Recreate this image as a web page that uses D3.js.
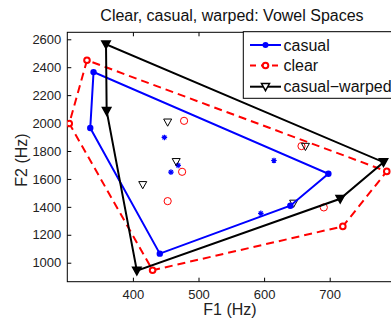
<!DOCTYPE html>
<html>
<head>
<meta charset="utf-8">
<script src="https://cdn.jsdelivr.net/npm/d3@7"></script>
<style>
  html, body { margin: 0; padding: 0; background: #fff; overflow: hidden; }
  svg { display: block; font-family: "Liberation Sans", Arial, Helvetica, sans-serif; }
</style>
</head>
<body>
<svg id="chart" width="391" height="323"></svg>
<script>
// ---- data (F1, F2 in Hz) ----
const seriesNames = ["casual", "clear", "casual\u2212warped"];
// convex hull vertices
const casualHullF1 = [340, 335, 441, 640, 698];
const casualHullF2 = [2365, 1965, 1065, 1408, 1637];
const clearHullF1  = [330, 303, 430, 720, 787];
const clearHullF2  = [2450, 1997, 946, 1260, 1654];
const warpedHullF1 = [359, 360, 406, 716, 782];
const warpedHullF2 = [2564, 2087, 943, 1458, 1720];
// interior vowels
const casualInnerF1 = [448, 458, 469, 615, 595];
const casualInnerF2 = [1897, 1649, 1697, 1732, 1353];
const clearInnerF1  = [478, 475, 453, 657, 691];
const clearInnerF2  = [2016, 1651, 1441, 1835, 1396];
const warpedInnerF1 = [453, 466, 415, 663, 645];
const warpedInnerF2 = [2006, 1723, 1558, 1832, 1425];
// ticks
const xTicks = [400, 500, 600, 700];
const yTicks = [1000, 1200, 1400, 1600, 1800, 2000, 2200, 2400, 2600];

const svg = d3.select("#chart");
const L = 67.3, R = 395.3, T = 32.3, B = 281.7;
const x = d3.scaleLinear().domain([300, 800]).range([L, R]);
const y = d3.scaleLinear().domain([864, 2650]).range([B, T]);

const zip = (a, b) => a.map((v, i) => [v, b[i]]);

svg.append("defs").append("clipPath").attr("id", "clip")
  .append("rect").attr("x", L).attr("y", T).attr("width", R - L).attr("height", B - T);

// title
svg.append("text").attr("x", 232).attr("y", 21).attr("text-anchor", "middle")
  .attr("font-size", 16).attr("fill", "#111").text("Clear, casual, warped: Vowel Spaces");

// axes (box with inward ticks)
const fmt = d3.format("d");
svg.append("g").attr("transform", `translate(0,${B})`)
  .call(d3.axisBottom(x).tickValues(xTicks).tickFormat(fmt).tickSize(-4).tickPadding(8));
svg.append("g").attr("transform", `translate(0,${T})`)
  .call(d3.axisTop(x).tickValues(xTicks).tickFormat("").tickSize(-4));
svg.append("g").attr("transform", `translate(${L},0)`)
  .call(d3.axisLeft(y).tickValues(yTicks).tickFormat(fmt).tickSize(-4).tickPadding(6));
svg.append("g").attr("transform", `translate(${R},0)`)
  .call(d3.axisRight(y).tickValues(yTicks).tickFormat("").tickSize(-4));
svg.selectAll(".domain").remove();
svg.selectAll(".tick line").attr("stroke", "#000");
svg.selectAll(".tick text").attr("font-size", 13).attr("fill", "#222")
  .attr("font-family", "Liberation Sans, Arial, sans-serif");
svg.append("rect").attr("x", L).attr("y", T).attr("width", R - L).attr("height", B - T)
  .attr("fill", "none").attr("stroke", "#000").attr("stroke-width", 1);

// axis labels
svg.append("text").attr("x", 230).attr("y", 315).attr("text-anchor", "middle")
  .attr("font-size", 16).attr("fill", "#222").text("F1 (Hz)");
svg.append("text").attr("transform", "translate(27,160) rotate(-90)").attr("text-anchor", "middle")
  .attr("font-size", 16).attr("fill", "#222").text("F2 (Hz)");

const plot = svg.append("g").attr("clip-path", "url(#clip)");

const triDown = (s) => `M${-s},${-s * 0.8}L${s},${-s * 0.8}L0,${s}Z`;
function asterisk(g, cx, cy, r, color) {
  const p = [];
  for (let k = 0; k < 4; k++) {
    const a = k * Math.PI / 4;
    p.push(`M${cx - r * Math.cos(a)},${cy - r * Math.sin(a)}L${cx + r * Math.cos(a)},${cy + r * Math.sin(a)}`);
  }
  g.append("path").attr("d", p.join("")).attr("stroke", color).attr("stroke-width", 1.2).attr("fill", "none");
}

// interior points
zip(casualInnerF1, casualInnerF2).forEach(d => asterisk(plot, x(d[0]), y(d[1]), 2.8, "#0000ff"));
plot.selectAll(".ci").data(zip(clearInnerF1, clearInnerF2)).join("circle")
  .attr("cx", d => x(d[0])).attr("cy", d => y(d[1])).attr("r", 3.6)
  .attr("fill", "none").attr("stroke", "#ff0000").attr("stroke-width", 1);
plot.selectAll(".wi").data(zip(warpedInnerF1, warpedInnerF2)).join("path")
  .attr("d", triDown(4)).attr("transform", d => `translate(${x(d[0])},${y(d[1])})`)
  .attr("fill", "none").attr("stroke", "#000").attr("stroke-width", 1);

const line = d3.line().x(d => x(d[0])).y(d => y(d[1])).curve(d3.curveLinearClosed);

// casual hull
const cH = zip(casualHullF1, casualHullF2);
plot.append("path").attr("d", line(cH)).attr("fill", "none").attr("stroke", "#0000ff").attr("stroke-width", 2);
plot.selectAll(".ch").data(cH).join("circle")
  .attr("cx", d => x(d[0])).attr("cy", d => y(d[1])).attr("r", 3.2).attr("fill", "#0000ff");

// clear hull
const rH = zip(clearHullF1, clearHullF2);
plot.append("path").attr("d", line(rH)).attr("fill", "none").attr("stroke", "#ff0000")
  .attr("stroke-width", 2).attr("stroke-dasharray", "8,5");
plot.selectAll(".rh").data(rH).join("circle")
  .attr("cx", d => x(d[0])).attr("cy", d => y(d[1])).attr("r", 2.8)
  .attr("fill", "#fff").attr("stroke", "#ff0000").attr("stroke-width", 2);

// warped hull
const wH = zip(warpedHullF1, warpedHullF2);
plot.append("path").attr("d", line(wH)).attr("fill", "none").attr("stroke", "#000").attr("stroke-width", 2);
plot.selectAll(".wh").data(wH).join("path")
  .attr("d", triDown(4.2)).attr("transform", d => `translate(${x(d[0])},${y(d[1])})`)
  .attr("fill", "#000").attr("stroke", "#000").attr("stroke-width", 1.5);

// legend
const lg = svg.append("g");
lg.append("rect").attr("x", 243.3).attr("y", 31.7).attr("width", 170).attr("height", 66.6)
  .attr("fill", "#fff").attr("stroke", "#000").attr("stroke-width", 1);
const rows = [45, 65.5, 86.7];
const x0 = 250, x1 = 281, xm = 265.5;
// casual
lg.append("line").attr("x1", x0).attr("x2", x1).attr("y1", rows[0]).attr("y2", rows[0])
  .attr("stroke", "#0000ff").attr("stroke-width", 2);
lg.append("circle").attr("cx", xm).attr("cy", rows[0]).attr("r", 3).attr("fill", "#0000ff");
// clear
lg.append("line").attr("x1", x0).attr("x2", x1).attr("y1", rows[1]).attr("y2", rows[1])
  .attr("stroke", "#ff0000").attr("stroke-width", 2).attr("stroke-dasharray", "6,5");
lg.append("circle").attr("cx", xm).attr("cy", rows[1]).attr("r", 2.8)
  .attr("fill", "#fff").attr("stroke", "#ff0000").attr("stroke-width", 2);
// warped
lg.append("line").attr("x1", x0).attr("x2", x1).attr("y1", rows[2]).attr("y2", rows[2])
  .attr("stroke", "#000").attr("stroke-width", 2);
lg.append("path").attr("d", triDown(4)).attr("transform", `translate(${xm},${rows[2]})`)
  .attr("fill", "#fff").attr("stroke", "#000").attr("stroke-width", 1.5);
seriesNames.forEach((n, i) => {
  lg.append("text").attr("x", 283.5).attr("y", rows[i]).attr("dy", "0.36em")
    .attr("font-size", 16).attr("fill", "#111").text(n);
});
</script>
</body>
</html>
